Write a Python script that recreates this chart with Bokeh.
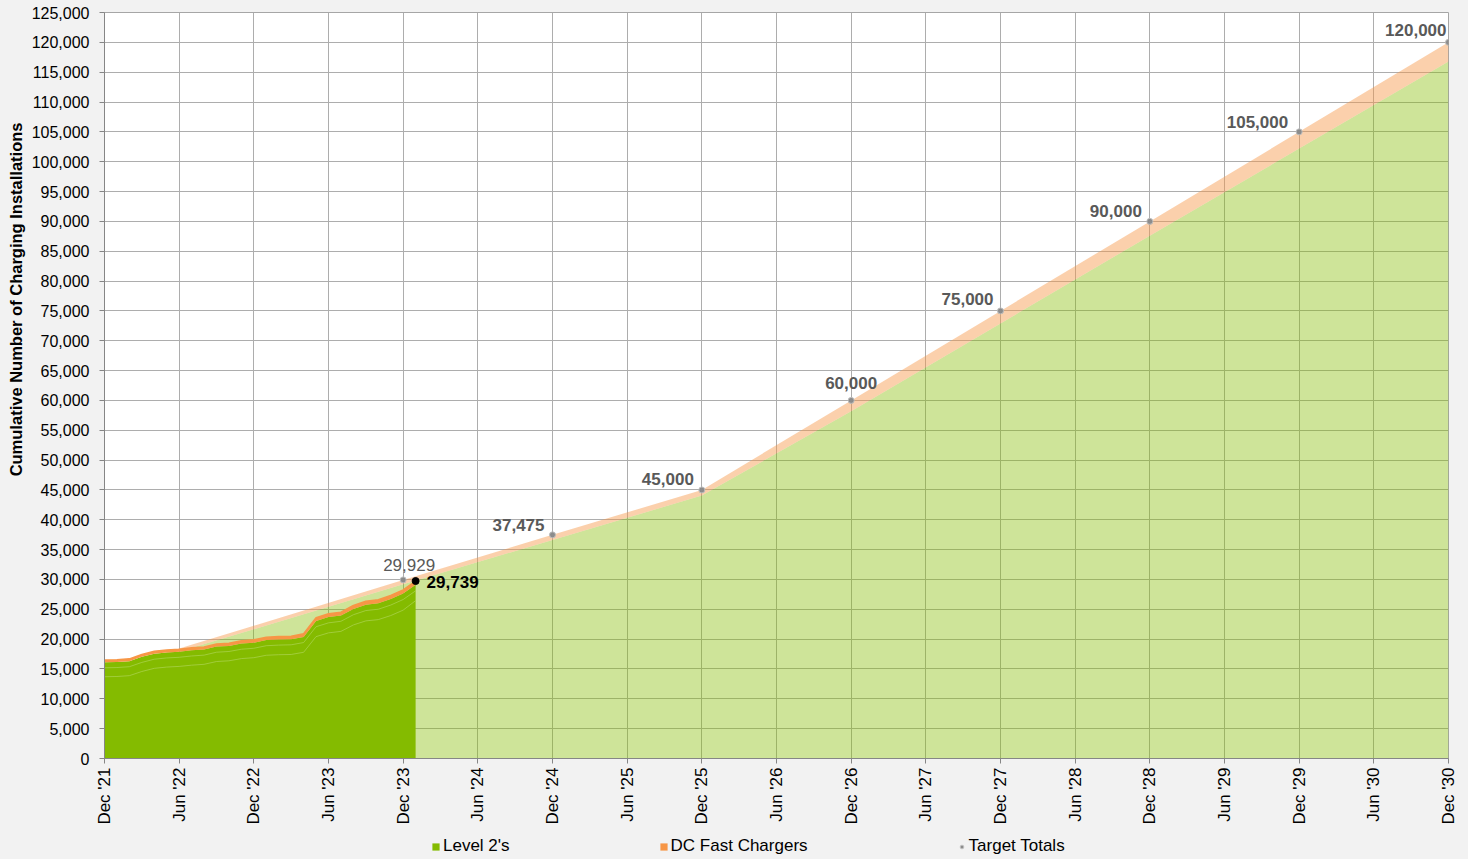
import math
from bokeh.plotting import figure
from bokeh.layouts import column
from bokeh.models import (ColumnDataSource, FixedTicker, NumeralTickFormatter, Legend,
                          LegendItem, Title, Range1d)
from bokeh.core.properties import value
from bokeh.embed import file_html
from bokeh.resources import INLINE

# ---------------- data ----------------
actual_months = ["2021-12", "2022-01", "2022-02", "2022-03", "2022-04", "2022-05",
                 "2022-06", "2022-07", "2022-08", "2022-09", "2022-10", "2022-11",
                 "2022-12", "2023-01", "2023-02", "2023-03", "2023-04", "2023-05",
                 "2023-06", "2023-07", "2023-08", "2023-09", "2023-10", "2023-11",
                 "2023-12", "2024-01"]
# cumulative total installations (Level 2 + DC fast)
actual_total = [16500, 16540, 16700, 17430, 17980, 18200, 18320, 18550, 18700, 19200,
                19330, 19720, 19890, 20330, 20440, 20500, 20890, 23570, 24240, 24520,
                25640, 26360, 26590, 27310, 28260, 29739]
# DC fast chargers
actual_dc = [380, 380, 390, 400, 410, 420, 420, 430, 440, 450, 460, 470, 480, 490,
             500, 510, 520, 540, 550, 560, 570, 580, 590, 600, 610, 620]
# internal Level 2 sub-category boundaries
l2_sub1 = [15200, 15240, 15380, 16100, 16640, 16850, 16960, 17180, 17320, 17810, 17930,
           18310, 18470, 18900, 19000, 19050, 19430, 22080, 22730, 22990, 24090, 24790,
           25010, 25710, 26640, 28100]
l2_sub2 = [13700, 13740, 13880, 14580, 15110, 15320, 15430, 15640, 15780, 16250, 16370,
           16740, 16890, 17300, 17390, 17430, 17800, 20420, 21050, 21300, 22380, 23060,
           23270, 23950, 24860, 26450]

target_months = ["2021-12", "2022-12", "2023-12", "2024-12", "2025-12", "2026-12",
                 "2027-12", "2028-12", "2029-12", "2030-12"]
target_total = [14600, 22250, 29929, 37475, 45000, 60000, 75000, 90000, 105000, 120000]
target_dc = [400, 600, 750, 850, 950, 1800, 2100, 2400, 2800, 3200]
target_labels = ["", "", "29,929", "37,475", "45,000", "60,000", "75,000", "90,000",
                 "105,000", "120,000"]

tick_labels = ["Dec '21", "Jun '22", "Dec '22", "Jun '23", "Dec '23", "Jun '24", "Dec '24",
               "Jun '25", "Dec '25", "Jun '26", "Dec '26", "Jun '27", "Dec '27", "Jun '28",
               "Dec '28", "Jun '29", "Dec '29", "Jun '30", "Dec '30"]

series_names = ["Level 2's", "DC Fast Chargers", "Target Totals"]
y_title = "Cumulative Number of Charging Installations"


def month_index(s):
    y, m = s.split("-")
    return (int(y) - 2021) * 12 + int(m) - 12


ax = [month_index(s) for s in actual_months]
tx = [month_index(s) for s in target_months]
act_l2 = [t - d for t, d in zip(actual_total, actual_dc)]
tgt_l2 = [t - d for t, d in zip(target_total, target_dc)]

FONT = "Liberation Sans"
GREEN = "#84bb00"
ORANGE = "#f79646"
BG = "#f2f2f2"

p = figure(width=1468, height=830, output_backend="svg", toolbar_location=None,
           x_range=Range1d(0, 108), y_range=Range1d(0, 125000),
           min_border_left=104, min_border_right=20, min_border_top=12, min_border_bottom=72)
p.background_fill_color = "white"
p.border_fill_color = BG
p.outline_line_color = "#a6a6a6"

# axes
xt = [i * 6 for i in range(len(tick_labels))]
p.xaxis.ticker = FixedTicker(ticks=xt)
p.xaxis.major_label_overrides = {t: l for t, l in zip(xt, tick_labels)}
p.xaxis.major_label_orientation = math.pi / 2
yt = list(range(0, 125001, 5000))
p.yaxis.ticker = FixedTicker(ticks=yt)
p.yaxis.formatter = NumeralTickFormatter(format="0,0")
for a in (p.xaxis, p.yaxis):
    a.axis_line_color = "#868686"
    a.major_tick_line_color = "#868686"
    a.major_tick_in = 0
    a.major_tick_out = 5
    a.minor_tick_line_color = None
    a.major_label_text_font = FONT
    a.major_label_text_font_size = "16px"
    a.major_label_text_color = "#000000"
    a.major_label_standoff = 4
p.yaxis.major_label_standoff = 10
p.xaxis.major_label_text_font_size = "17px"
p.xgrid.ticker = FixedTicker(ticks=xt)
p.ygrid.ticker = FixedTicker(ticks=yt)
p.xgrid.grid_line_color = "#adadad"
p.ygrid.grid_line_color = "#adadad"

# target stacked areas
tsrc = ColumnDataSource(dict(x=tx, l2=tgt_l2, total=target_total))
p.varea(x="x", y1=0, y2="l2", source=tsrc, fill_color=GREEN, fill_alpha=0.4)
p.varea(x="x", y1="l2", y2="total", source=tsrc, fill_color=ORANGE, fill_alpha=0.45)

# actual stacked areas
asrc = ColumnDataSource(dict(x=ax, l2=act_l2, total=actual_total, s1=l2_sub1, s2=l2_sub2))
p.varea(x="x", y1=0, y2="l2", source=asrc, fill_color=GREEN)
p.varea(x="x", y1="l2", y2="total", source=asrc, fill_color=ORANGE)
p.line(x="x", y="total", source=asrc, line_color=ORANGE, line_width=1.5)
p.line(x="x", y="s1", source=asrc, line_color="#b4d860", line_width=1, line_alpha=0.6)
p.line(x="x", y="s2", source=asrc, line_color="#b4d860", line_width=1, line_alpha=0.6)

# target markers and labels
mk = [i for i, l in enumerate(target_labels) if l]
msrc = ColumnDataSource(dict(x=[tx[i] for i in mk], y=[target_total[i] for i in mk],
                             t=[target_labels[i] for i in mk]))
p.scatter(x="x", y="y", source=msrc, size=6, fill_color="#8c8c8c",
          line_color="#bdbdbd", line_width=1)

# label placement (style only)
lab_dx = [6, -8, -8, 0, -7, -8, -11, -2]
lab_dy = [-15, -10, -11, -17, -12, -10, -10, -12]
lab_align = ["center", "right", "right", "center", "right", "right", "right", "right"]
lab_weight = ["normal", "bold", "bold", "bold", "bold", "bold", "bold", "bold"]
lsrc = ColumnDataSource(dict(x=msrc.data["x"], y=msrc.data["y"], t=msrc.data["t"],
                             dx=lab_dx, dy=lab_dy, al=lab_align, fw=lab_weight))
p.text(x="x", y="y", text="t", source=lsrc, x_offset="dx", y_offset="dy",
       text_align="al", text_baseline="middle", text_font=value(FONT),
       text_font_size="17px", text_font_style="fw", text_color="#595959")

# latest actual point
lsrc2 = ColumnDataSource(dict(x=[ax[-1]], y=[actual_total[-1]],
                              t=["{:,}".format(actual_total[-1])]))
p.scatter(x="x", y="y", source=lsrc2, size=7, color="#000000")
p.text(x="x", y="y", text="t", source=lsrc2, x_offset=11, y_offset=1,
       text_align="left", text_baseline="middle", text_font=value(FONT),
       text_font_size="17px", text_font_style="bold", text_color="#000000")

# y title (offset upwards like the reference)
p.add_layout(Title(text=y_title, align="right", offset=110, text_font=FONT,
                   text_font_size="16.5px", text_font_style="bold",
                   text_color="#000000", standoff=8), "left")

# ---------------- legend strip ----------------
lg = figure(width=1468, height=29, output_backend="svg", toolbar_location=None,
            x_range=Range1d(0, 1), y_range=Range1d(0, 1), x_axis_type=None,
            y_axis_type=None, min_border=0)
lg.background_fill_color = BG
lg.border_fill_color = BG
lg.outline_line_color = None
lg.grid.visible = False
# legend keys: a single point placed outside the strip's visible range
keysrc = ColumnDataSource(dict(x=[5], y1=[5], y2=[5]))
k1 = lg.varea(x="x", y1="y1", y2="y2", source=keysrc, fill_color=GREEN)
k2 = lg.varea(x="x", y1="y1", y2="y2", source=keysrc, fill_color=ORANGE)
k3 = lg.scatter(x="x", y="y1", source=keysrc, size=6, fill_color="#8c8c8c",
                line_color="#bdbdbd", line_width=1)
legend = Legend(items=[LegendItem(label=series_names[0], renderers=[k1]),
                       LegendItem(label=series_names[1], renderers=[k2]),
                       LegendItem(label=series_names[2], renderers=[k3])],
                orientation="horizontal", location=(327, 3), spacing=149,
                glyph_width=9, glyph_height=9, label_standoff=3, padding=0, margin=0,
                background_fill_alpha=0, border_line_alpha=0,
                label_text_font=FONT, label_text_font_size="17px",
                label_text_color="#000000", label_height=18)
lg.add_layout(legend)

layout = column(p, lg, spacing=0)
html = file_html(layout, INLINE)
html = html.replace("<head>", "<head><style>body{background:#f2f2f2;}</style>", 1)
open("out.html", "w").write(html)
